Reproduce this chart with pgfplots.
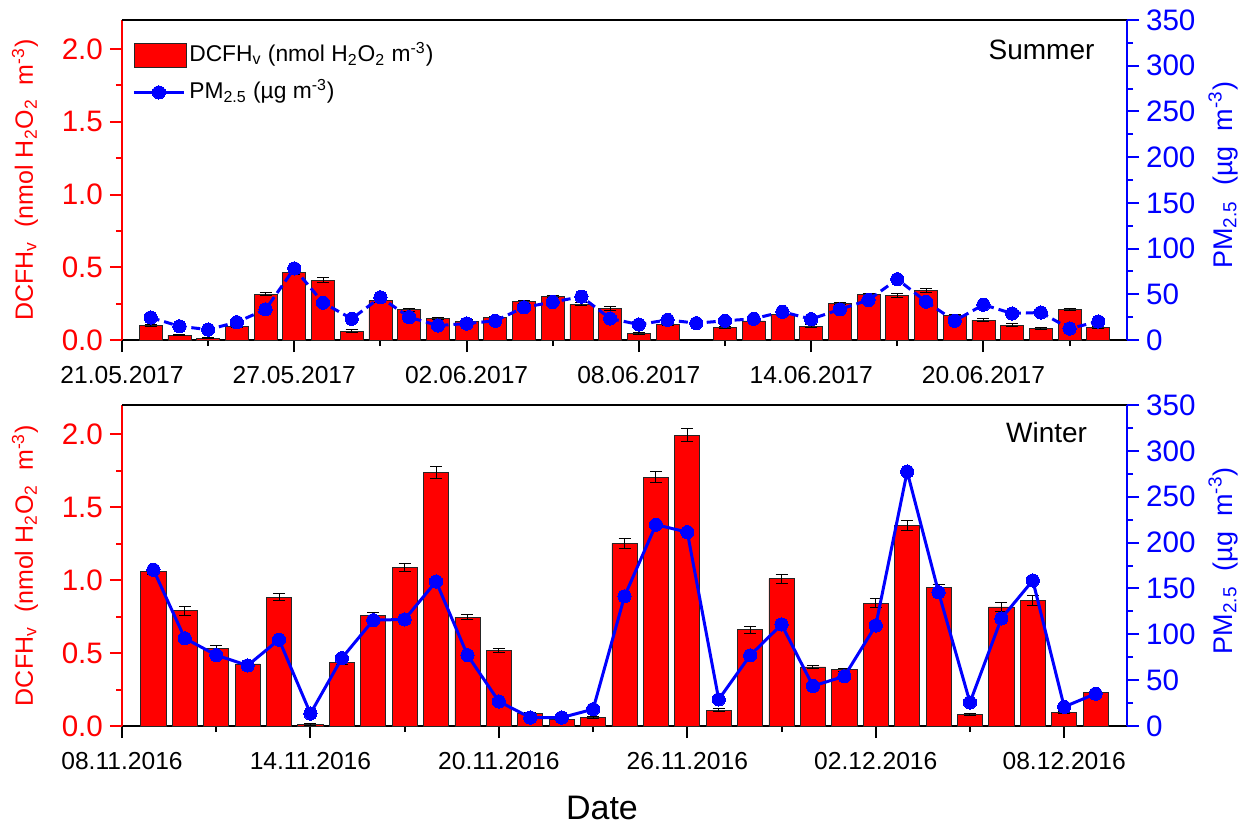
\documentclass[border=0pt]{standalone}
\usepackage{fontspec}
\setmainfont{Liberation Sans}
\usepackage{pgfplots}
\usepackage{pgfplotstable}
\pgfplotsset{compat=1.18}
\definecolor{myred}{RGB}{255,0,0}
\definecolor{myblue}{RGB}{0,0,255}
\newcommand\xtickfont{\fontsize{12.3}{14}\selectfont}
\newcommand\ytickfont{\fontsize{14.8}{17}\selectfont}
\newcommand\labfont{\fontsize{12.5}{15}\selectfont}

\pgfplotstableread{
d v e
1 0.098 0.008
2 0.033 0.005
3 0.012 0.004
4 0.093 0.007
5 0.315 0.012
6 0.465 0.015
7 0.411 0.018
8 0.061 0.010
9 0.269 0.010
10 0.208 0.009
11 0.147 0.008
12 0.130 0.008
13 0.154 0.007
14 0.264 0.010
15 0.299 0.010
16 0.245 0.010
17 0.215 0.012
18 0.044 0.006
19 0.107 0.007
21 0.089 0.007
22 0.131 0.007
23 0.178 0.008
24 0.096 0.008
25 0.252 0.009
26 0.311 0.010
27 0.306 0.012
28 0.341 0.013
29 0.171 0.007
30 0.136 0.010
31 0.103 0.009
32 0.079 0.008
33 0.210 0.008
34 0.089 0.007
}\sumd

\pgfplotstableread{
d p
1 24.6
2 15
3 11.4
4 19.5
5 33.5
6 78.3
7 40.8
8 23.2
9 46.7
10 25
11 15.8
12 18
13 21
14 35.7
15 41.5
16 47.4
17 23.5
18 16.9
19 22
20 18.4
21 21
22 23.2
23 30.9
24 22.8
25 33.5
26 43.8
27 66.5
28 41.9
29 21
30 38.6
31 29
32 30.1
33 12.5
34 20.2
}\sump

\pgfplotstableread{
d v e
1 1.057 0.020
2 0.790 0.030
3 0.530 0.022
4 0.425 0.010
5 0.883 0.025
6 0.008 0.006
7 0.435 0.012
8 0.758 0.020
9 1.087 0.030
10 1.739 0.040
11 0.747 0.018
12 0.518 0.015
13 0.083 0.008
14 0.046 0.005
15 0.060 0.006
16 1.251 0.035
17 1.706 0.040
18 1.993 0.045
19 0.109 0.010
20 0.659 0.025
21 1.010 0.030
22 0.405 0.012
23 0.386 0.010
24 0.842 0.030
25 1.376 0.035
26 0.948 0.020
27 0.079 0.008
28 0.816 0.030
29 0.858 0.035
30 0.095 0.006
31 0.227 0.006
}\wind

\pgfplotstableread{
d p
1 170.4
2 95.6
3 77.3
4 66
5 94.2
6 13.6
7 74
8 115.4
9 116.2
10 157.6
11 77.3
12 26.7
13 9.2
14 9.2
15 18.3
16 141.4
17 219.5
18 211.4
19 29
20 77
21 110.7
22 43.6
23 54.2
24 109.6
25 277.4
26 145.8
27 25.7
28 117.3
29 158.7
30 20.9
31 35.2
}\winp

\pgfplotsset{
  base/.style={scale only axis, width=502.5pt, anchor=south west,
    tick align=outside, major tick length=6pt, minor tick length=3pt,
    tick style={line width=1pt}, axis line style={line width=1pt},
    /pgf/number format/assume math mode=true,
    xticklabel style={font=\xtickfont, yshift=-3.5pt},
    yticklabel style={font=\ytickfont}, label style={font=\labfont}},
  leftax/.style={base, axis y line*=left, axis x line*=bottom, clip=false,
    ymin=0, ymax=2.2, ytick={0,0.5,1,1.5,2}, minor ytick={0.25,0.75,1.25,1.75},
    y axis line style={myred}, y tick style={myred},
    yticklabel style={color=myred, /pgf/number format/fixed, /pgf/number format/fixed zerofill, /pgf/number format/precision=1},
    x axis line style={black}, x tick style={black},
    ylabel={DCFH\textsubscript{v}\ \ (nmol H\textsubscript{2}O\textsubscript{2}\ \ m\textsuperscript{-3})},
    ylabel style={color=myred, at={(axis description cs:-0.0965,0.5)}, anchor=center}},
  rightax/.style={base, axis y line*=right, axis x line=none,
    ymin=0, ymax=350, ytick={0,50,...,350}, minor ytick={25,75,...,325},
    y axis line style={myblue}, y tick style={myblue},
    yticklabel style={color=myblue},
    ylabel={PM\textsubscript{2.5}\ \ (µg\ \ m\textsuperscript{-3})},
    ylabel style={color=myblue, font=\fontsize{13.5}{16}\selectfont, at={(axis description cs:1.0955,0.515)}, anchor=center}},
  barsty/.style={ybar, bar width=0.8, fill=myred, draw=black!85, line width=0.4pt,
    error bars/.cd, y dir=both, y explicit,
    error bar style={black, line width=0.5pt},
    error mark options={rotate=90, mark size=3pt, black, line width=0.5pt}},
  pmsty/.style={myblue, line width=1.5pt, mark=*, mark size=3.3pt,
    mark options={solid, fill=myblue, draw=myblue, line width=0pt}},
  pmleg/.style={legend image code/.code={\draw[##1, solid, mark repeat=2, mark phase=2] plot coordinates {(0pt,0pt) (12.5pt,0pt) (25pt,0pt)};}},
  barleg/.style={legend image code/.code={\draw[fill=myred, draw=black!85, line width=0.4pt] (0pt,-6pt) rectangle (26pt,6pt);}},
}

\begin{document}
\begin{tikzpicture}
\path[use as bounding box] (0,0) rectangle (623.5pt,413pt);
% ---------- Summer ----------
\begin{axis}[leftax, at={(61pt,243pt)}, height=160pt, xmin=0, xmax=35,
  xtick={0,6,12,18,24,30}, minor xtick={3,9,15,21,27,33},
  xticklabels={21.05.2017,27.05.2017,02.06.2017,08.06.2017,14.06.2017,20.06.2017}]
  \addplot[barsty] table[x=d, y=v, y error=e] {\sumd};
  \draw[black, line width=1pt] (rel axis cs:0,1) -- (rel axis cs:1,1);
\end{axis}
\begin{axis}[rightax, at={(61pt,243pt)}, height=160pt, xmin=0, xmax=35,
  legend style={at={(rel axis cs:0.004,0.95)}, anchor=north west, draw=none, fill=none,
    font=\fontsize{11.4}{13}\selectfont, row sep=3.5pt, nodes={inner sep=1.5pt, text height=9pt, text depth=3pt}},
  legend cell align=left]
  \addlegendimage{barleg}
  \addlegendentry{DCFH\textsubscript{v} (nmol H\textsubscript{2}O\textsubscript{2} m\textsuperscript{-3})}
  \addplot[pmsty, pmleg, dash pattern=on 4.5pt off 2.5pt] table[x=d, y=p] {\sump};
  \addlegendentry{PM\textsubscript{2.5} (µg m\textsuperscript{-3})}
  \node[font=\fontsize{14}{16}\selectfont] at (rel axis cs:0.915,0.906) {Summer};
\end{axis}
% ---------- Winter ----------
\begin{axis}[leftax, at={(61pt,50pt)}, height=160.5pt, xmin=0, xmax=32,
  xtick={0,6,12,18,24,30}, minor xtick={3,9,15,21,27},
  xticklabels={08.11.2016,14.11.2016,20.11.2016,26.11.2016,02.12.2016,08.12.2016},
  xlabel={Date}, xlabel style={font=\fontsize{17}{20}\selectfont, text depth=0pt, inner sep=0pt, at={(axis description cs:0.4776,-0.292)}, anchor=base}]
  \addplot[barsty] table[x=d, y=v, y error=e] {\wind};
  \draw[black, line width=1pt] (rel axis cs:0,1) -- (rel axis cs:1,1);
\end{axis}
\begin{axis}[rightax, at={(61pt,50pt)}, height=160.5pt, xmin=0, xmax=32]
  \addplot[pmsty] table[x=d, y=p] {\winp};
  \node[font=\fontsize{14}{16}\selectfont] at (rel axis cs:0.92,0.913) {Winter};
\end{axis}
\end{tikzpicture}
\end{document}
